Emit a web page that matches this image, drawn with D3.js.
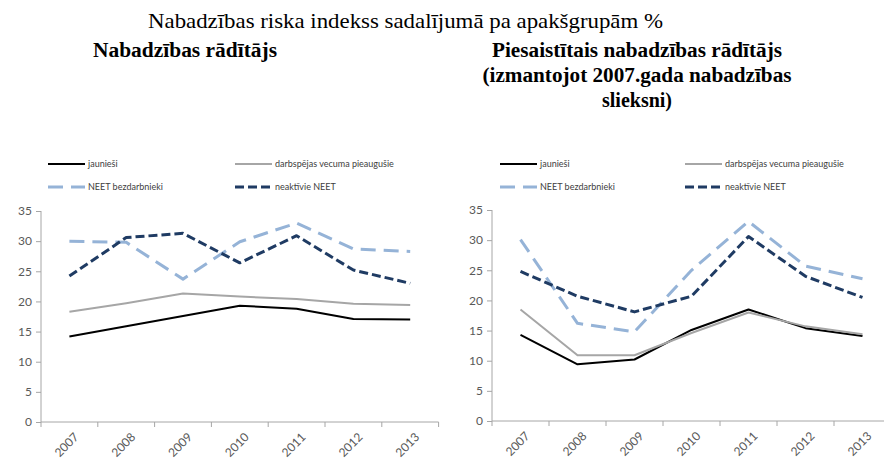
<!DOCTYPE html>
<html>
<head>
<meta charset="utf-8">
<script src="https://cdn.jsdelivr.net/npm/d3@7"></script>
<style>
  body { margin: 0; background: #fff; }
  .axis text { font-family: Lato, "Open Sans", sans-serif; fill: #595959; }
  .ttl { font-family: "Liberation Serif", "Times New Roman", serif; fill: #000; }
</style>
</head>
<body>
<div id="chart"></div>
<script>
// years on the x axis
var years = ["2007", "2008", "2009", "2010", "2011", "2012", "2013"];
var seriesNames = ["jaunieši", "darbspējas vecuma pieaugušie", "NEET bezdarbnieki", "neaktīvie NEET"];

// left chart: Nabadzības rādītājs
var leftYouth    = [14.2, 15.9, 17.6, 19.3, 18.8, 17.1, 17.0];
var leftAdults   = [18.3, 19.7, 21.3, 20.8, 20.4, 19.6, 19.4];
var leftNeetUnem = [30.0, 29.8, 23.7, 29.9, 33.0, 28.7, 28.3];
var leftNeetInac = [24.2, 30.6, 31.3, 26.4, 30.9, 25.2, 23.0];

// right chart: anchored poverty rate (2007 threshold)
var rightYouth    = [14.3, 9.4, 10.2, 15.1, 18.5, 15.4, 14.1];
var rightAdults   = [18.5, 10.9, 10.9, 14.6, 18.0, 15.7, 14.4];
var rightNeetUnem = [30.1, 16.2, 14.8, 25.0, 33.1, 25.7, 23.6];
var rightNeetInac = [24.8, 20.7, 18.1, 20.7, 30.6, 24.0, 20.5];

var yTicks = [0, 5, 10, 15, 20, 25, 30, 35];

var W = 884, H = 459;
var styles = [
  { color: "#000000", width: 2,   dash: null },
  { color: "#a6a6a6", width: 2,   dash: null },
  { color: "#95b3d7", width: 3,   dash: "15,8" },
  { color: "#1f3b63", width: 3,   dash: "9,4" }
];

var svg = d3.select("#chart").append("svg")
  .attr("width", W).attr("height", H);

// titles
svg.append("text").attr("class", "ttl")
  .attr("x", 148).attr("y", 28)
  .style("font-size", "21px")
  .attr("textLength", 515).attr("lengthAdjust", "spacingAndGlyphs")
  .text("Nabadzības riska indekss sadalījumā pa apakšgrupām %");

svg.append("text").attr("class", "ttl")
  .attr("x", 93).attr("y", 57)
  .style("font-size", "20px").style("font-weight", "bold")
  .attr("textLength", 184).attr("lengthAdjust", "spacingAndGlyphs")
  .text("Nabadzības rādītājs");

var rightTitle = ["Piesaistītais nabadzības rādītājs", "(izmantojot 2007.gada nabadzības", "slieksni)"];
var rightLen = [290, 309, null];
svg.selectAll(".rt").data(rightTitle).enter().append("text")
  .attr("class", "ttl")
  .attr("x", 637).attr("y", function(d, i) { return 57 + i * 25; })
  .attr("text-anchor", "middle")
  .style("font-size", "20px").style("font-weight", "bold")
  .attr("textLength", function(d, i) { return rightLen[i]; })
  .attr("lengthAdjust", "spacingAndGlyphs")
  .text(function(d) { return d; });

function drawChart(opts) {
  var g = svg.append("g");
  var x = d3.scaleBand().domain(years).range([opts.left, opts.left + opts.band * 7]);
  var y = d3.scaleLinear().domain([0, 35]).range([opts.bottom, opts.top]);

  // y axis
  var ya = g.append("g").attr("class", "axis")
    .attr("transform", "translate(" + opts.left + ",0)")
    .call(d3.axisLeft(y).tickValues(yTicks).tickSize(5).tickPadding(4));
  ya.selectAll("text").style("font-size", "12px");

  // x axis, ticks at band edges
  var xa = g.append("g").attr("class", "axis")
    .attr("transform", "translate(0," + opts.bottom + ")");
  xa.append("line")
    .attr("x1", opts.left).attr("x2", opts.left + opts.band * 7)
    .attr("stroke", "#a6a6a6");
  xa.selectAll(".tk").data(d3.range(8)).enter().append("line")
    .attr("x1", function(i) { return opts.left + i * opts.band; })
    .attr("x2", function(i) { return opts.left + i * opts.band; })
    .attr("y1", 0).attr("y2", 5).attr("stroke", "#a6a6a6");
  xa.selectAll(".lbl").data(years).enter().append("text")
    .attr("transform", function(d) {
      return "translate(" + (x(d) + x.bandwidth() / 2 + 4) + ",10) rotate(-45)";
    })
    .attr("text-anchor", "end").attr("dy", "0.7em")
    .style("font-size", "12px")
    .text(function(d) { return d; });

  ya.selectAll("path, line").attr("stroke", "#a6a6a6");
  ya.select(".domain").attr("d", "M0," + opts.top + "V" + opts.bottom);

  // lines
  var line = d3.line()
    .x(function(d, i) { return x(years[i]) + x.bandwidth() / 2; })
    .y(function(d) { return y(d); });

  opts.series.forEach(function(s, k) {
    g.append("path").datum(s)
      .attr("fill", "none")
      .attr("stroke", styles[k].color)
      .attr("stroke-width", styles[k].width)
      .attr("stroke-dasharray", styles[k].dash)
      .attr("stroke-linejoin", "round")
      .attr("d", line);
  });

  // legend, two rows of two
  var leg = g.append("g");
  seriesNames.forEach(function(name, k) {
    var col = k % 2, row = Math.floor(k / 2);
    var lx = opts.legX[col], ly = 164 + row * 23;
    leg.append("line")
      .attr("x1", lx).attr("x2", lx + 37).attr("y1", ly).attr("y2", ly)
      .attr("stroke", styles[k].color)
      .attr("stroke-width", styles[k].width)
      .attr("stroke-dasharray", styles[k].dash);
    leg.append("text")
      .attr("x", lx + 40).attr("y", ly + 3)
      .style("font-family", "Lato, 'Open Sans', sans-serif")
      .style("font-size", "9px").style("fill", "#404040")
      .text(name);
  });
}

drawChart({
  left: 41, band: 56.8, top: 211, bottom: 422,
  legX: [48, 235],
  series: [leftYouth, leftAdults, leftNeetUnem, leftNeetInac]
});

drawChart({
  left: 492, band: 57, top: 210, bottom: 421,
  legX: [500, 685],
  series: [rightYouth, rightAdults, rightNeetUnem, rightNeetInac]
});
</script>
</body>
</html>
